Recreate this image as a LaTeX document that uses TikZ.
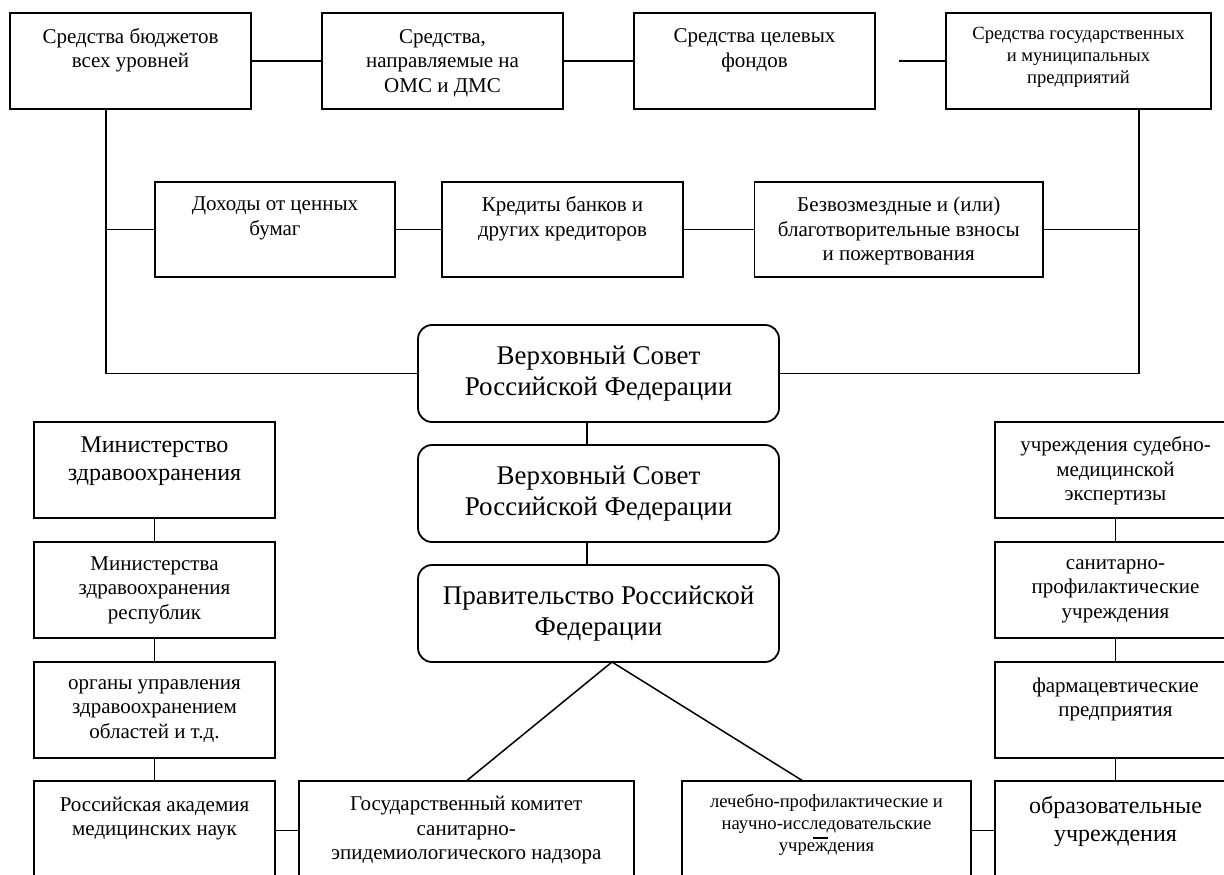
\documentclass[tikz,border=0pt]{standalone}
\usepackage{fontspec}
\setmainfont{Liberation Serif}
\newcommand\fN{\fontsize{21}{24.5}\selectfont}
\newcommand\fS{\fontsize{18.6}{22}\selectfont}
\newcommand\fB{\fontsize{27}{31}\selectfont}
\newcommand\fM{\fontsize{24}{27.5}\selectfont}
\newcommand\bx[6]{\node[#6, minimum width={#4-#2}, minimum height={#5-#3}] (#1) at ({(#2+#4)/2},{(#3+#5)/2}) {};}
\newcommand\tx[5]{\node[txt, font=#4] (#1-t) at (#2,#3) {#5};}
\begin{document}
\begin{tikzpicture}[x=1pt,y=-1pt,
  line width=1.8pt,
  rbox/.style={draw, rectangle, inner sep=0pt, outer sep=0pt},
  rrbox/.style={draw, rectangle, rounded corners=14pt, inner sep=0pt, outer sep=0pt},
  txt/.style={align=center, inner sep=0pt},
  link/.style={draw, line width=1.8pt}]
\useasboundingbox (0,0) rectangle (1224,875);
\clip (0,0) rectangle (1224,875);

% top row
\bx{b1}{10}{13}{251}{109}{rbox}
\tx{b1}{130.5}{50.5}{\fN}{Средства бюджетов\\всех уровней}
\bx{b2}{322}{13}{563}{109}{rbox}
\tx{b2}{442.5}{63}{\fN}{Средства,\\направляемые на\\ОМС и ДМС}
\bx{b3}{634}{13}{875}{109}{rbox}
\tx{b3}{754.5}{50.5}{\fN}{Средства целевых\\фондов}
\bx{b4}{946}{13}{1211}{109}{rbox}
\tx{b4}{1078.5}{57.5}{\fS}{Средства государственных\\и муниципальных\\предприятий}

% second row
\bx{d1}{155}{182}{395}{277}{rbox}
\tx{d1}{275}{218.5}{\fN}{Доходы от ценных\\бумаг}
\bx{d2}{442}{182}{683}{277}{rbox}
\tx{d2}{562.5}{218.5}{\fN}{Кредиты банков и\\других кредиторов}
\bx{d3}{754.5}{182}{1043}{277}{rbox}
\tx{d3}{898.75}{231}{\fN}{Безвозмездные и (или)\\благотворительные взносы\\и пожертвования}

% central column
\bx{v1}{418}{325}{779}{422}{rrbox}
\tx{v1}{598.5}{373.5}{\fB}{Верховный Совет\\Российской Федерации}
\bx{v2}{418}{445}{779}{542}{rrbox}
\tx{v2}{598.5}{493.5}{\fB}{Верховный Совет\\Российской Федерации}
\bx{gov}{418}{565}{779}{662}{rrbox}
\tx{gov}{598.5}{613.5}{\fB}{Правительство Российской\\Федерации}

% left column
\bx{m1}{34}{422}{275}{518}{rbox}
\tx{m1}{154.5}{461}{\fM}{Министерство\\здравоохранения}
\bx{m2}{34}{542}{275}{638}{rbox}
\tx{m2}{154.5}{590}{\fN}{Министерства\\здравоохранения\\республик}
\bx{m3}{34}{662}{275}{758}{rbox}
\tx{m3}{154.5}{711}{\fN}{органы управления\\здравоохранением\\областей и т.д.}
\bx{m4}{34}{781}{275}{880}{rbox}
\tx{m4}{154.5}{818.5}{\fN}{Российская академия\\медицинских наук}

% bottom middle
\bx{g1}{298.6}{781}{634}{880}{rbox}
\tx{g1}{466.3}{830.5}{\fN}{Государственный комитет\\санитарно-\\эпидемиологического надзора}
\bx{l1}{682}{781}{971}{880}{rbox}
\tx{l1}{826.5}{825}{\fS}{лечебно-профилактические и\\научно-исследовательские\\учреждения}

% right column
\bx{r1}{995}{422}{1236}{518}{rbox}
\tx{r1}{1115.5}{471}{\fN}{учреждения судебно-\\медицинской\\экспертизы}
\bx{r2}{995}{542}{1236}{638}{rbox}
\tx{r2}{1115.5}{591}{\fN}{санитарно-\\профилактические\\учреждения}
\bx{r3}{995}{662}{1236}{758}{rbox}
\tx{r3}{1115.5}{699.5}{\fN}{фармацевтические\\предприятия}
\bx{r4}{995}{781}{1236}{880}{rbox}
\tx{r4}{1115.5}{821.5}{\fM}{образовательные\\учреждения}

% helper coordinates
\coordinate (lx) at (106,0);
\coordinate (rx) at (1139,0);
\coordinate (cx) at (587,0);
\coordinate (ax) at (612,0);
\coordinate (lend) at (803,781);
\coordinate (fr) at (899,61);
\coordinate (mk1) at (813,838);
\coordinate (mk2) at (827.5,838);

% connectors
\draw[link] (b1.east) -- (b2.west);
\draw[link] (b2.east) -- (b3.west);
\draw[link] (fr) -- (b4.west);
\draw[link] (b1.south -| lx) |- (v1.west);
\draw[link] (b4.south -| rx) |- (v1.east);
\draw[link] (d1.west -| lx) -- (d1.west);
\draw[link] (d1.east) -- (d2.west);
\draw[link] (d2.east) -- (d3.west);
\draw[link] (d3.east) -- (d3.east -| rx);
\draw[link] (v1.south -| cx) -- (v2.north -| cx);
\draw[link] (v2.south -| cx) -- (gov.north -| cx);
\draw[link, line width=1.5pt] (gov.south -| ax) -- (g1.north);
\draw[link, line width=1.5pt] (gov.south -| ax) -- (lend);
\draw[link] (m1.south) -- (m2.north);
\draw[link] (m2.south) -- (m3.north);
\draw[link] (m3.south) -- (m4.north);
\draw[link] (r1.south) -- (r2.north);
\draw[link] (r2.south) -- (r3.north);
\draw[link] (r3.south) -- (r4.north);
\draw[link] (m4.east) -- (g1.west);
\draw[link] (l1.east) -- (r4.west);
\draw[line width=2.2pt] (mk1) -- (mk2);
\end{tikzpicture}
\end{document}
